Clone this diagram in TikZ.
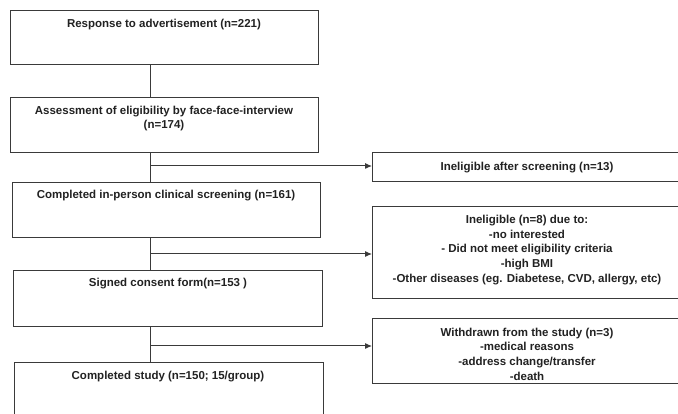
\documentclass[tikz,border=0pt]{standalone}
\usepackage{fontspec}
\setmainfont{Liberation Sans}
\usetikzlibrary{arrows.meta}
\definecolor{ink}{HTML}{222222}
\definecolor{edge}{HTML}{3A3A3A}
\begin{document}
\begin{tikzpicture}[x=1pt,y=-1pt,
  box/.style={draw=edge,line width=1.4pt,anchor=north west,inner sep=0pt},
  txt/.style={font=\fontsize{11.5}{14.6}\selectfont\bfseries,text=ink,align=center,inner sep=0pt},
  conn/.style={draw=edge,line width=1pt},
  arr/.style={conn,-{Latex[length=7pt,width=6pt]}}]
\useasboundingbox (0,0) rectangle (678,414);
\fill[white] (0,0) rectangle (678,414);
% left column boxes
\node[box,minimum width=308pt,minimum height=54pt] (b1) at (10,10) {};
\node[box,minimum width=308pt,minimum height=55pt] (b2) at (10,97) {};
\node[box,minimum width=308pt,minimum height=55pt] (b3) at (12,182) {};
\node[box,minimum width=309pt,minimum height=56pt] (b4) at (13,270) {};
\node[box,minimum width=309pt,minimum height=60pt] (b5) at (14,362) {};
\node[txt,anchor=north] (t1) at (164,18.5) {Response to advertisement (n=221)};
\node[txt,anchor=north] (t2) at (164,105.5) {Assessment of eligibility by face-face-interview\\(n=174)};
\node[txt,anchor=north] (t3) at (166,189.5) {Completed in-person clinical screening (n=161)};
\node[txt,anchor=north] (t4) at (168,278) {Signed consent form(n=153 )};
\node[txt,anchor=north] (t5) at (168,371) {Completed study (n=150; 15/group)};
% right column boxes
\node[box,minimum width=312pt,minimum height=29pt] (r1) at (372,152) {};
\node[box,minimum width=312pt,minimum height=92pt] (r2) at (372,206) {};
\node[box,minimum width=312pt,minimum height=65pt] (r3) at (372,318) {};
\node[txt] (u1) at (527,167.5) {Ineligible after screening (n=13)};
\node[txt] (u2) at (527,250) {Ineligible (n=8) due to:\\-no interested\\- Did not meet eligibility criteria\\-high BMI\\-Other diseases (eg. Diabetese, CVD, allergy, etc)};
\node[txt] (u3) at (527,354) {Withdrawn from the study (n=3)\\-medical reasons\\-address change/transfer\\-death};
% spine
\coordinate (j1) at (150,166);
\coordinate (j2) at (150,254);
\coordinate (j3) at (150,346);
\draw[conn] (b1.south -| j1) -- (b2.north -| j1);
\draw[conn] (b2.south -| j1) -- (b3.north -| j1);
\draw[conn] (b3.south -| j1) -- (b4.north -| j1);
\draw[conn] (b4.south -| j1) -- (b5.north -| j1);
\draw[arr] (j1) -- (j1 -| r1.west);
\draw[arr] (j2) -- (j2 -| r2.west);
\draw[arr] (j3) -- (j3 -| r3.west);
\end{tikzpicture}
\end{document}
